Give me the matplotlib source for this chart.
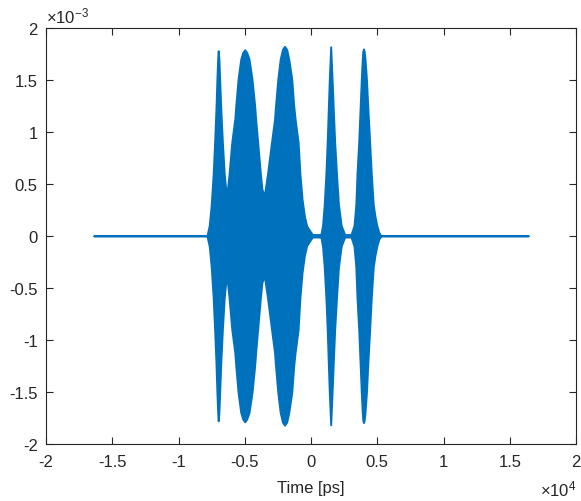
import numpy as np
import matplotlib
matplotlib.use("Agg")
from matplotlib import pyplot as plt

plt.rcParams['font.family'] = ['Liberation Sans', 'DejaVu Sans']
plt.rcParams['mathtext.fontset'] = 'custom'
plt.rcParams['mathtext.rm'] = 'Liberation Sans'
plt.rcParams['mathtext.it'] = 'Liberation Sans'
plt.rcParams['axes.unicode_minus'] = False

# envelope of the (densely oscillating) signal
# time in ps, amplitude in units of 1e-3
t_ps = [-16384, -7853,
        # pulse 1
        -7680, -7530, -7380, -7275, -7178, -7103, -7043, -7005,
        -6953, -6893, -6803, -6690, -6555, -6375,
        # pulse 2
        -6180, -5978, -5753, -5678, -5505, -5303, -5153, -5003, -4853,
        -4680, -4455, -4253, -4178, -4028, -3825, -3705, -3525,
        # pulse 3
        -3278, -2978, -2753, -2678, -2505, -2325, -2153, -2003, -1838,
        -1680, -1455, -1305, -1200, -975, -840, -675, -503, -330, 0, 98,
        375, 700,
        # pulse 4
        750, 870, 998, 1125, 1223, 1300, 1380, 1485,
        1590, 1685, 1785, 1920, 2070, 2273, 2535, 2800,
        # pulse 5
        3023, 3248, 3383, 3473, 3600, 3698, 3795, 3870, 3908, 3960, 4013,
        4073, 4185, 4298, 4425, 4545, 4695, 4823, 4973, 5123, 5273,
        16384]
env = [0.0, 0.0,
       0.1, 0.3, 0.6, 0.9, 1.2, 1.5, 1.7, 1.777,
       1.7, 1.5, 1.2, 0.9, 0.6, 0.367,
       0.6, 0.9, 1.12, 1.248, 1.505, 1.697, 1.76, 1.787, 1.76,
       1.697, 1.505, 1.248, 1.12, 0.9, 0.6, 0.447, 0.383,
       0.6, 0.9, 1.12, 1.248, 1.505, 1.697, 1.79, 1.819, 1.79,
       1.697, 1.505, 1.248, 1.12, 0.9, 0.6, 0.35, 0.19, 0.095, 0.03, 0.012,
       0.012, 0.012,
       0.015, 0.1, 0.3, 0.6, 0.9, 1.2, 1.5, 1.815,
       1.5, 1.2, 0.9, 0.6, 0.3, 0.1, 0.012, 0.012,
       0.012, 0.1, 0.3, 0.6, 0.9, 1.2, 1.5, 1.7, 1.77, 1.794, 1.77,
       1.7, 1.5, 1.2, 0.9, 0.6, 0.3, 0.19, 0.095, 0.03, 0.0,
       0.0]

xticks = [-20000, -15000, -10000, -5000, 0, 5000, 10000, 15000, 20000]
xticklabels = ['-2', '-1.5', '-1', '-0.5', '0', '0.5', '1', '1.5', '2']
yticks = [-2, -1.5, -1, -0.5, 0, 0.5, 1, 1.5, 2]
yticklabels = ['-2', '-1.5', '-1', '-0.5', '0', '0.5', '1', '1.5', '2']

blue = '#0072BD'
grey = '#262626'

t = np.array(t_ps)
a = np.array(env) * 1e-3

fig = plt.figure(figsize=(5.81, 5.02), dpi=100)
ax = fig.add_axes([0.0792, 0.1135, 0.9122, 0.8297])

ax.fill_between(t, -a, a, facecolor=blue, edgecolor=blue, linewidth=1.4)

ax.set_xlim(-20000, 20000)
ax.set_ylim(-2e-3, 2e-3)
ax.set_xticks(xticks)
ax.set_xticklabels(xticklabels)
ax.set_yticks([v * 1e-3 for v in yticks])
ax.set_yticklabels(yticklabels)

ax.tick_params(direction='in', length=5, width=0.8, colors=grey,
               labelsize=12, top=True, right=True)
ax.tick_params(axis='x', pad=7)
ax.tick_params(axis='y', pad=6)
for s in ax.spines.values():
    s.set_color(grey)
    s.set_linewidth(0.8)

ax.set_xlabel('Time [ps]', fontsize=12, color=grey, labelpad=8)

ax.text(0.0, 1.005, r'$\times10^{-3}$', transform=ax.transAxes,
        fontsize=12, color=grey, ha='left', va='bottom')
ax.text(1.0, -0.083, r'$\times10^{4}$', transform=ax.transAxes,
        fontsize=12, color=grey, ha='right', va='top')

fig.savefig('out.png', dpi=100)
